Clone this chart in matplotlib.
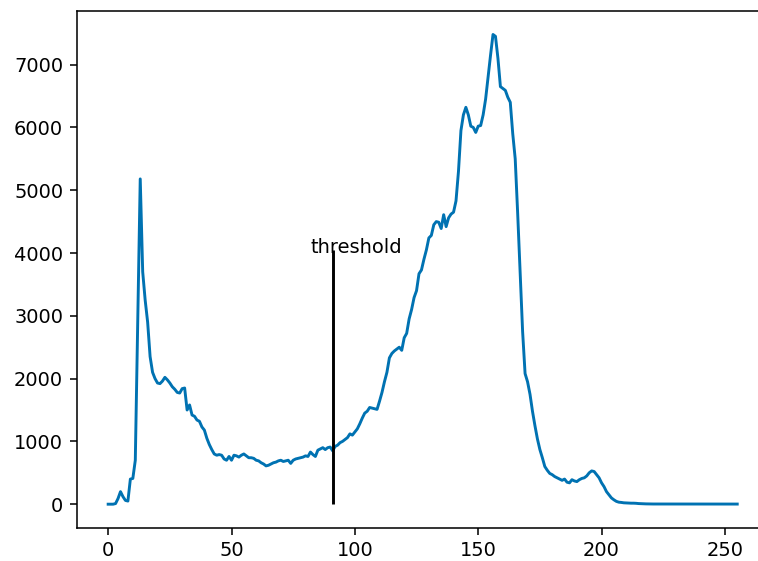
import matplotlib
matplotlib.use("Agg")
import matplotlib.pyplot as plt
import numpy as np

# Histogram counts for grey levels 0..255
counts = [
    0, 0, 0, 10, 90, 200, 120, 60, 50, 400,            # 0-9
    410, 700, 2900, 5180, 3700, 3250, 2900, 2350, 2100, 2000,  # 10-19
    1930, 1920, 1960, 2020, 1980, 1930, 1870, 1830, 1780, 1770,  # 20-29
    1840, 1850, 1500, 1580, 1420, 1400, 1340, 1320, 1230, 1180,  # 30-39
    1050, 950, 870, 800, 780, 790, 780, 720, 700, 760,  # 40-49
    700, 780, 770, 750, 780, 800, 770, 740, 740, 730,   # 50-59
    700, 690, 660, 640, 610, 620, 640, 660, 670, 690,   # 60-69
    700, 680, 690, 700, 650, 700, 720, 730, 740, 750,   # 70-79
    770, 760, 830, 790, 760, 860, 880, 900, 870, 900,   # 80-89
    910, 850, 920, 940, 980, 1000, 1030, 1060, 1120, 1100,  # 90-99
    1150, 1200, 1280, 1370, 1450, 1480, 1540, 1530, 1520, 1510,  # 100-109
    1640, 1780, 1950, 2100, 2330, 2400, 2440, 2470, 2500, 2450,  # 110-119
    2650, 2720, 2950, 3100, 3290, 3400, 3670, 3730, 3900, 4050,  # 120-129
    4240, 4280, 4450, 4500, 4490, 4390, 4610, 4420, 4560, 4620,  # 130-139
    4650, 4830, 5300, 5950, 6200, 6320, 6200, 6020, 6000, 5920,  # 140-149
    6020, 6030, 6200, 6450, 6800, 7150, 7480, 7450, 7100, 6650,  # 150-159
    6620, 6590, 6480, 6400, 5900, 5500, 4630, 3700, 2750, 2080,  # 160-169
    1950, 1750, 1480, 1250, 1040, 870, 740, 600, 540, 490,  # 170-179
    470, 440, 420, 400, 380, 400, 350, 340, 390, 370,   # 180-189
    360, 390, 410, 420, 450, 500, 530, 520, 470, 420,   # 190-199
    340, 280, 200, 150, 100, 70, 45, 32, 28, 22,        # 200-209
    20, 18, 16, 16, 14, 10, 8, 6, 5, 4,                 # 210-219
    4, 3, 3, 3, 3, 2, 2, 2, 2, 2,                       # 220-229
    2, 2, 2, 2, 2, 2, 2, 2, 2, 2,                       # 230-239
    2, 2, 2, 2, 2, 2, 2, 2, 2, 2,                       # 240-249
    2, 2, 2, 2, 2, 2,                                   # 250-255
]
levels = list(range(256))
threshold = 91
threshold_top = 4050
label_text = "threshold"
label_x = 82
label_y = 4000

S = 1.397  # scale relative to default 100-dpi figure
plt.rcParams.update({
    "font.size": 10 * S,
    "axes.linewidth": 0.8 * S,
    "xtick.major.size": 3.5 * S,
    "ytick.major.size": 3.5 * S,
    "xtick.major.width": 0.8 * S,
    "ytick.major.width": 0.8 * S,
    "xtick.major.pad": 3.5 * S,
    "ytick.major.pad": 3.5 * S,
    "lines.linewidth": 1.5 * S,
})

fig = plt.figure(figsize=(7.58, 5.61), dpi=100)
ax = fig.add_axes([0.1012, 0.0594, 0.9129, 0.9210])
ax.plot(levels, counts, color="#0072b2")
ax.vlines(threshold, 0, threshold_top, color="black", linewidth=1.5 * S)
ax.text(label_x, label_y, label_text, color="black")
ax.set_xticks([0, 50, 100, 150, 200, 250])
ax.set_yticks(range(0, 8000, 1000))
fig.savefig("out.png", dpi=100)
